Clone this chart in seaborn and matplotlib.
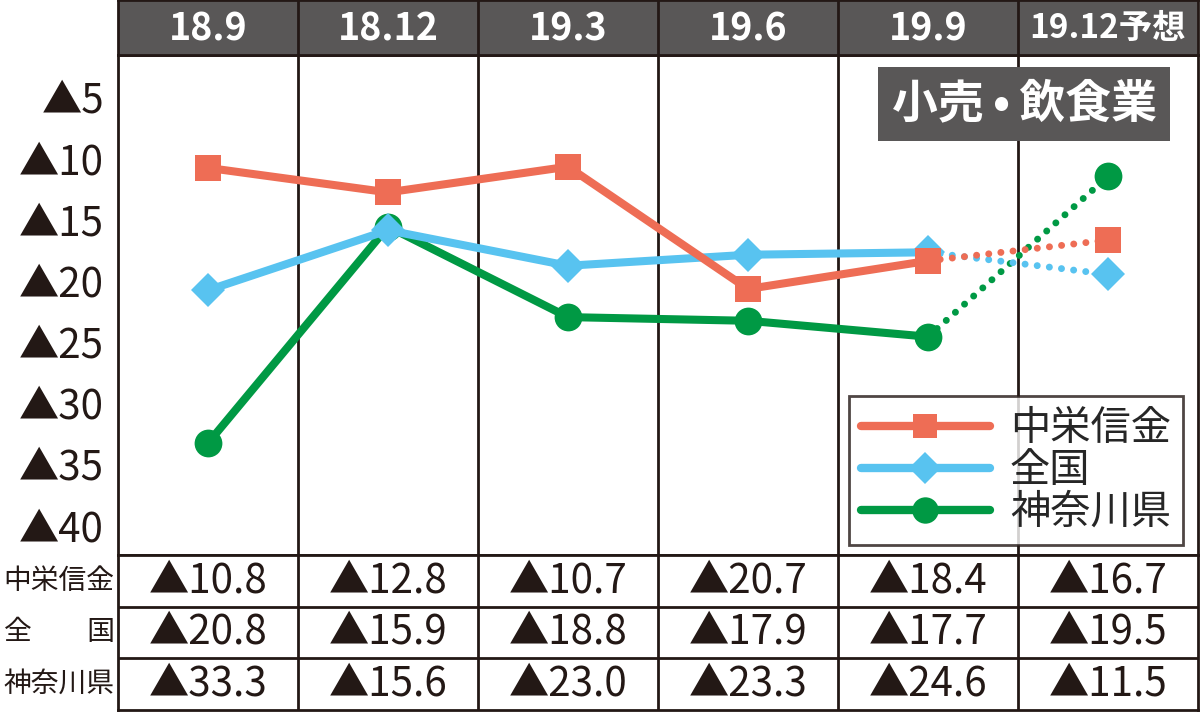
import pandas as pd
import matplotlib.pyplot as plt
import seaborn as sns
from matplotlib.lines import Line2D

# data
periods = ["18.9", "18.12", "19.3", "19.6", "19.9", "19.12予想"]
series_names = ["中栄信金", "全国", "神奈川県"]
row_labels = ["中栄信金", "全\u3000\u3000国", "神奈川県"]
chuei = [10.8, 12.8, 10.7, 20.7, 18.4, 16.7]
zenkoku = [20.8, 15.9, 18.8, 17.9, 17.7, 19.5]
kanagawa = [33.3, 15.6, 23.0, 23.3, 24.6, 11.5]
ytick_vals = [5, 10, 15, 20, 25, 30, 35, 40]

colors = {"中栄信金": "#EE6D55", "全国": "#58C3F0", "神奈川県": "#009944"}
markers = {"中栄信金": "s", "全国": "D", "神奈川県": "o"}
msizes = {"中栄信金": 18.5, "全国": 17, "神奈川県": 20}
values = {"中栄信金": chuei, "全国": zenkoku, "神奈川県": kanagawa}
gray = "#595757"
ink = "#231815"

sns.set_style("white")
plt.rcParams["font.family"] = ["Noto Sans CJK JP", "DejaVu Sans"]

W, H = 1200, 713
fig = plt.figure(figsize=(12, 7.13), dpi=100)

def box(x0, y0, x1, y1):
    return [x0 / W, (H - y1) / H, (x1 - x0) / W, (y1 - y0) / H]

# main plot area
ax = fig.add_axes(box(118, 55, 1198, 555))
ax.set_xlim(-0.5, 5.5)
ax.set_ylim(42.45, 1.57)

# draw green first so orange sits on top
for name in ["神奈川県", "全国", "中栄信金"]:
    v = values[name]
    df = pd.DataFrame({"x": list(range(5)), "y": v[:5]})
    sns.lineplot(data=df, x="x", y="y", ax=ax, color=colors[name], lw=5.8,
                 marker=markers[name], markersize=msizes[name],
                 markeredgewidth=0, solid_capstyle="round")
    ax.plot([4, 5], v[4:6], color=colors[name], lw=5, linestyle=(0, (0.01, 1.75)),
            dash_capstyle="round")
    ax.plot([5], v[5:6], color=colors[name], marker=markers[name],
            markersize=msizes[name], markeredgewidth=0, linestyle="none")

for xb in range(1, 6):
    ax.axvline(xb - 0.5, color=ink, lw=2, zorder=0)
for s in ax.spines.values():
    s.set_color(ink)
    s.set_linewidth(2)
ax.set_xticks([])
ax.set_yticks(ytick_vals)
ax.set_yticklabels(["▲" + str(v) for v in ytick_vals], fontsize=29, color=ink)
ax.tick_params(axis="y", length=0, pad=10)
ax.set_xlabel("")
ax.set_ylabel("")

# title box
ax.text(0.839, 0.902, "小売\u2009•\u2009飲食業", transform=ax.transAxes, ha="center",
        va="center", fontsize=33, fontweight="bold", color="white",
        bbox=dict(boxstyle="square,pad=0.3", fc=gray, ec="none"))

# legend
handles = [Line2D([0], [0], color=colors[n], lw=6, marker=markers[n],
                  markersize=msizes[n] * 0.95, markeredgewidth=0, solid_capstyle="round")
           for n in series_names]
leg = ax.legend(handles, series_names, loc="lower right", bbox_to_anchor=(0.986, 0.02),
                borderaxespad=0, fontsize=29, frameon=True, fancybox=False,
                handlelength=3.2, labelspacing=0.02, borderpad=0.3, handletextpad=0.5)
leg.get_frame().set_edgecolor(ink)
leg.get_frame().set_linewidth(2)

# header row
axh = fig.add_axes(box(118, 0, 1198, 55))
axh.set_facecolor(gray)
axh.set_xlim(-0.5, 5.5)
axh.set_ylim(0, 1)
for i, p in enumerate(periods):
    axh.text(i, 0.48, p, ha="center", va="center", color="white",
             fontsize=24 if i == 5 else 27, fontweight="bold")
for xb in range(1, 6):
    axh.axvline(xb - 0.5, color=ink, lw=2)
axh.set_xticks([])
axh.set_yticks([])
for s in axh.spines.values():
    s.set_color(ink)
    s.set_linewidth(2)

# value table
axt = fig.add_axes(box(118, 555, 1198, 710))
axt.set_xlim(-0.5, 5.5)
axt.set_ylim(3, 0)
for r, name in enumerate(series_names):
    for i, v in enumerate(values[name]):
        axt.text(i, r + 0.5, "▲" + format(v, ".1f"), ha="center", va="center",
                 fontsize=29, color=ink)
    axt.text(-0.5 - 59 / 180, r + 0.5, row_labels[r], ha="center", va="center",
             fontsize=20, color=ink, clip_on=False)
for xb in range(1, 6):
    axt.axvline(xb - 0.5, color=ink, lw=2)
for yb in [1, 2]:
    axt.axhline(yb, color=ink, lw=2)
axt.set_xticks([])
axt.set_yticks([])
for s in axt.spines.values():
    s.set_color(ink)
    s.set_linewidth(2)

fig.savefig("out.png", dpi=100)
